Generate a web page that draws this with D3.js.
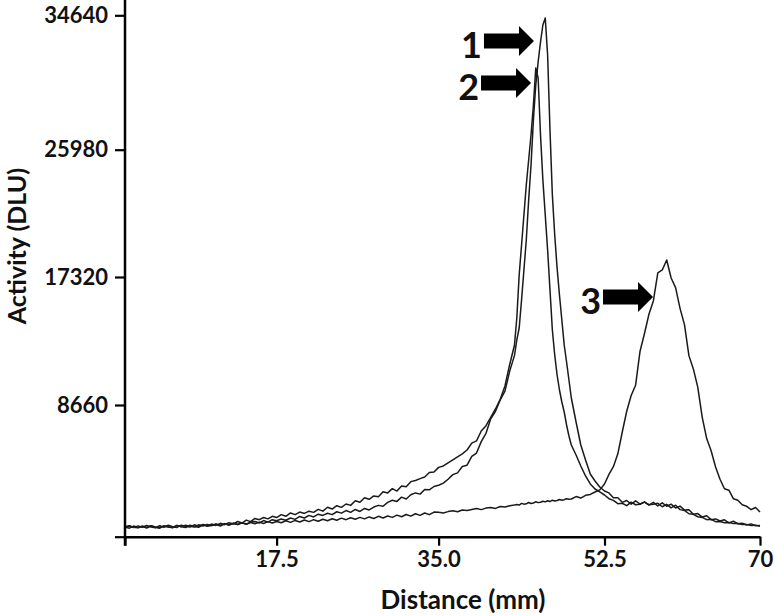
<!DOCTYPE html>
<html>
<head>
<meta charset="utf-8">
<script src="https://cdn.jsdelivr.net/npm/d3@7"></script>
<style>
  html, body { margin: 0; padding: 0; background: #fff; }
  svg { display: block; }
  text { font-family: Lato, "Open Sans", sans-serif; font-weight: 700; fill: #111; }
</style>
</head>
<body>
<svg id="chart" width="774" height="616"></svg>
<script>
// ---------------- DATA ----------------
const distance = [
  0,0.5,1,1.5,2,2.5,3,3.5,4,4.5,5,5.5,6,6.5,7,7.5,8,8.5,9,9.5,
  10,10.5,11,11.5,12,12.5,13,13.5,14,14.5,15,15.5,16,16.5,17,17.5,18,18.5,19,19.5,
  20,20.5,21,21.5,22,22.5,23,23.5,24,24.5,25,25.5,26,26.5,27,27.5,28,28.5,29,29.5,
  30,30.5,31,31.5,32,32.5,33,33.5,34,34.5,35,35.5,36,36.5,37,37.5,38,38.5,39,39.5,
  40,40.5,41,41.5,42,42.5,43,43.25,43.5,43.75,44,44.25,44.5,44.75,45,45.25,45.5,45.75,
  46,46.25,46.5,46.75,47,47.25,47.5,47.75,48,48.25,48.5,48.75,49,49.5,50,50.5,51,51.5,
  52,52.5,53,53.5,54,54.5,55,55.5,56,56.5,57,57.5,58,58.5,59,59.5,60,60.5,61,61.5,
  62,62.5,63,63.5,64,64.5,65,65.5,66,66.5,67,67.5,68,68.5,69,69.5,70
];

const activity1 = [
  640,560,700,600,690,570,720,620,560,710,
  640,590,740,650,600,760,670,620,780,690,
  740,820,700,850,760,880,800,920,830,960,
  1000,900,1060,960,1120,1050,1160,1080,1230,1140,
  1330,1230,1400,1300,1480,1400,1540,1450,1640,1550,
  1720,1600,1790,1660,1860,1760,1950,2060,2000,2260,
  2400,2320,2600,2480,2760,2880,2800,3100,3080,3300,
  3380,
  3520,3780,4080,4200,4620,4700,5280,5500,6250,6800,7750,8250,9000,9600,10950,12000,
  13058,13870,15764,17796,19837,22558,24939,27894,30149,31630,32919,34015,
  34466,32081,27249,22898,20177,17932,16102,14411,12720,11569,10352,9134,
  7543,6030,5044,4123,3663,3268,
  3005,2880,2560,2560,2260,2380,2140,2360,2150,2290,
  2080,2260,2020,2230,2000,2140,1890,2010,1750,1770,
  1480,1520,1290,1380,1120,1170,1030,1110,910,1020,
  850,890,770,840,720,740
];

const activity2 = [
  660,720,600,710,620,740,640,580,720,620,
  750,650,610,760,680,640,780,690,800,710,
  830,740,880,790,920,830,1000,900,1090,990,
  1200,1120,1260,1170,1340,1260,1450,1340,1560,1450,
  1620,1530,1680,1600,1800,1680,1940,1820,2040,1930,
  2150,2060,2360,2260,2560,2460,2680,2620,2960,2880,
  3160,3000,3340,3280,3620,3700,3820,3920,4220,4260,
  4560,
  4650,4850,5050,5250,5450,5700,6150,6300,6950,7300,7850,8400,9050,9950,11400,12700,
  14546,17456,19497,21538,23579,25280,26927,28860,31244,30600,26927,23919,
  21538,19157,16441,13735,12043,10690,9675,8863,8200,7345,6622,6030,
  5373,4649,3992,3466,3137,2940,
  2742,2500,2390,2170,2200,2040,2270,2100,2130,2270,
  2100,2140,2200,1970,2130,1900,2070,1780,1730,1510,
  1470,1310,1270,1120,1140,990,1000,920,940,860,
  870,800,810,740,760,690
];

const activity3 = [
  600,700,620,580,690,610,720,640,590,710,
  650,610,740,660,760,680,640,780,700,800,
  740,830,760,860,770,880,800,910,820,930,
  850,960,870,990,900,1000,920,1050,940,1070,
  970,1100,990,1120,1020,1150,1050,1180,1080,1220,
  1120,1250,1150,1270,1170,1300,1200,1340,1230,1360,
  1270,1420,1310,1460,1350,1510,1400,1560,1450,1620,
  1600,
  1560,1650,1700,1640,1760,1720,1790,1850,1780,1880,1920,1860,1990,1950,2040,2090,
  2120,2080,2190,2140,2160,2250,2180,2210,2300,2240,2270,2330,
  2290,2360,2310,2400,2350,2380,2450,2400,2430,2500,2460,2480,
  2640,2540,2720,2780,2940,3080,
  3466,4100,4600,5450,6885,8250,9300,10000,12300,13500,
  14800,15700,17600,17800,18476,17250,16600,15200,14100,12000,
  11100,9850,7850,6450,5650,4580,3780,3150,3060,2500,
  2400,2100,2000,1780,1920,1624
];

const xTickValues = [0, 17.5, 35, 52.5, 70];
const xTickLabels = ["", "17.5", "35.0", "52.5", "70"];
const yTickValues = [0, 8660, 17320, 25980, 34640];
const yTickLabels = ["", "8660", "17320", "25980", "34640"];

const peakLabels = ["1", "2", "3"];
const peakArrowMm = [45.06, 44.75, 57.96];
const peakArrowDlu = [32983, 30278, 15967];

const xTitle = "Distance (mm)";
const yTitle = "Activity (DLU)";

// ---------------- CHART ----------------
const svg = d3.select("#chart");

const x = d3.scaleLinear().domain(xTickValues).range([125, 276.6, 438.6, 604.5, 760]);
const y = d3.scaleLinear().domain(yTickValues).range([536.7, 405, 277, 149.7, 15.3]);

const series = [activity1, activity2, activity3];
const line = d3.line().x((d, i) => x(distance[i])).y(d => y(d));

svg.append("g").selectAll("path").data(series).join("path")
  .attr("d", d => line(d))
  .attr("fill", "none")
  .attr("stroke", "#1a1a1a")
  .attr("stroke-width", 1.5)
  .attr("stroke-linejoin", "round");

// axes
const yAxis = d3.axisLeft(y).tickValues(yTickValues)
  .tickFormat((d, i) => yTickLabels[i]).tickSize(10).tickSizeOuter(0).tickPadding(7);
const gy = svg.append("g").attr("transform", "translate(125,0)").call(yAxis);
gy.select(".domain").remove();
gy.selectAll("line").attr("stroke", "#000").attr("stroke-width", 2.2);
gy.selectAll("text").attr("font-size", 22).attr("font-family", "Lato").attr("font-weight", 700).attr("fill", "#111");

const xAxis = d3.axisBottom(x).tickValues(xTickValues)
  .tickFormat((d, i) => xTickLabels[i]).tickSize(9).tickSizeOuter(0).tickPadding(6);
const gx = svg.append("g").attr("transform", `translate(0,${y(0)})`).call(xAxis);
gx.selectAll("line").attr("stroke", "#000").attr("stroke-width", 2.2);
gx.select(".domain").attr("stroke", "#000").attr("stroke-width", 2.5);
gx.selectAll("text").attr("font-size", 22).attr("font-family", "Lato").attr("font-weight", 700).attr("fill", "#111");

// y spine running to top of the frame
svg.append("line")
  .attr("x1", x(0)).attr("x2", x(0))
  .attr("y1", 0).attr("y2", y(0) + 9)
  .attr("stroke", "#000").attr("stroke-width", 2.5);

// titles
svg.append("text")
  .attr("transform", `translate(26,${246}) rotate(-90)`)
  .attr("text-anchor", "middle")
  .attr("font-size", 25)
  .text(yTitle);

svg.append("text")
  .attr("x", 463).attr("y", 609)
  .attr("text-anchor", "middle")
  .attr("font-size", 26)
  .text(xTitle);

// peak arrows
const ann = svg.append("g");
peakLabels.forEach((lab, i) => {
  const tx = x(peakArrowMm[i]), ty = y(peakArrowDlu[i]);
  const headL = 15, headH = 15, shaftH = 7.5, shaftL = 35;
  const pts = [
    [tx, ty],
    [tx - headL, ty - headH],
    [tx - headL, ty - shaftH],
    [tx - headL - shaftL, ty - shaftH],
    [tx - headL - shaftL, ty + shaftH],
    [tx - headL, ty + shaftH],
    [tx - headL, ty + headH]
  ];
  ann.append("path").attr("d", "M" + pts.join("L") + "Z").attr("fill", "#000");
  ann.append("text")
    .attr("x", tx - headL - shaftL - 2).attr("y", ty + 17)
    .attr("text-anchor", "end")
    .attr("font-size", 36)
    .attr("font-weight", 900)
    .text(lab);
});
</script>
</body>
</html>
